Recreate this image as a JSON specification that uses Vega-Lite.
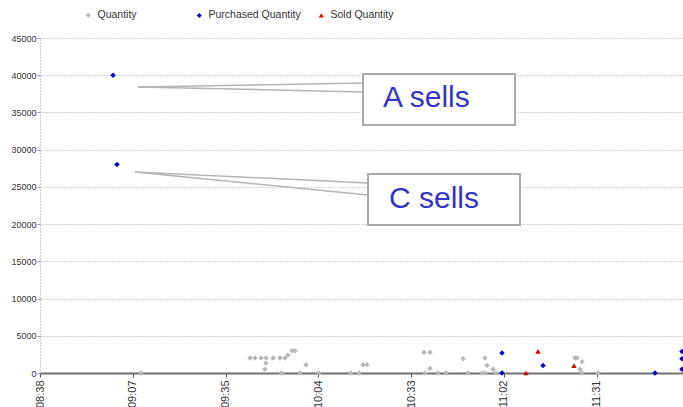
{
  "$schema": "https://vega.github.io/schema/vega-lite/v6.json",
  "width": 643,
  "height": 335,
  "autosize": {"type": "none"},
  "padding": {"left": 40, "top": 38, "right": 0, "bottom": 34},
  "background": "white",
  "config": {
    "view": {"stroke": null},
    "font": "Liberation Sans",
    "legend": {
      "orient": "none",
      "title": null,
      "direction": "horizontal",
      "labelFont": "Liberation Sans",
      "labelFontSize": 10.5,
      "labelColor": "#333333",
      "labelOffset": 4,
      "symbolSize": 25,
      "gridAlign": "each"
    },
    "axisX": {
      "title": null,
      "format": "%H:%M",
      "labelAngle": 270,
      "labelAlign": "right",
      "labelBaseline": "middle",
      "labelFont": "Liberation Sans",
      "labelFontSize": 11,
      "labelColor": "#333333",
      "labelPadding": 3,
      "labelOverlap": false,
      "labelFlush": false,
      "domainColor": "#707070",
      "domainWidth": 2,
      "tickColor": "#555555",
      "tickSize": 4,
      "grid": false
    },
    "axisY": {
      "title": null,
      "format": "d",
      "labelOverlap": false,
      "labelFlush": false,
      "labelFont": "Liberation Sans",
      "labelFontSize": 9,
      "labelColor": "#333333",
      "labelPadding": 1,
      "tickSize": 3,
      "tickColor": "#999999",
      "domainColor": "#999999",
      "domainDash": [1, 2],
      "grid": true,
      "gridColor": "#aaaaaa",
      "gridDash": [1, 2]
    }
  },
  "datasets": {
    "points": [
      {"time": "2013-01-01T09:00:52", "qty": 40000, "series": "Purchased Quantity"},
      {"time": "2013-01-01T09:02:06", "qty": 28000, "series": "Purchased Quantity"},
      {"time": "2013-01-01T11:01:35", "qty": 2700, "series": "Purchased Quantity"},
      {"time": "2013-01-01T11:01:35", "qty": 0, "series": "Purchased Quantity"},
      {"time": "2013-01-01T11:14:19", "qty": 1000, "series": "Purchased Quantity"},
      {"time": "2013-01-01T11:49:05", "qty": 0, "series": "Purchased Quantity"},
      {"time": "2013-01-01T11:57:27", "qty": 2900, "series": "Purchased Quantity"},
      {"time": "2013-01-01T11:57:27", "qty": 1900, "series": "Purchased Quantity"},
      {"time": "2013-01-01T11:57:27", "qty": 500, "series": "Purchased Quantity"},
      {"time": "2013-01-01T11:09:02", "qty": 0, "series": "Sold Quantity"},
      {"time": "2013-01-01T11:12:46", "qty": 2900, "series": "Sold Quantity"},
      {"time": "2013-01-01T11:23:56", "qty": 1000, "series": "Sold Quantity"},
      {"time": "2013-01-01T09:09:33", "qty": 0, "series": "Quantity"},
      {"time": "2013-01-01T09:43:23", "qty": 2000, "series": "Quantity"},
      {"time": "2013-01-01T09:44:56", "qty": 2000, "series": "Quantity"},
      {"time": "2013-01-01T09:46:47", "qty": 2000, "series": "Quantity"},
      {"time": "2013-01-01T09:48:20", "qty": 2000, "series": "Quantity"},
      {"time": "2013-01-01T09:48:20", "qty": 1300, "series": "Quantity"},
      {"time": "2013-01-01T09:48:00", "qty": 500, "series": "Quantity"},
      {"time": "2013-01-01T09:50:31", "qty": 2000, "series": "Quantity"},
      {"time": "2013-01-01T09:52:41", "qty": 2000, "series": "Quantity"},
      {"time": "2013-01-01T09:53:10", "qty": 0, "series": "Quantity"},
      {"time": "2013-01-01T09:54:14", "qty": 2000, "series": "Quantity"},
      {"time": "2013-01-01T09:55:10", "qty": 2400, "series": "Quantity"},
      {"time": "2013-01-01T09:56:25", "qty": 3000, "series": "Quantity"},
      {"time": "2013-01-01T09:57:20", "qty": 3000, "series": "Quantity"},
      {"time": "2013-01-01T09:58:54", "qty": 0, "series": "Quantity"},
      {"time": "2013-01-01T10:00:46", "qty": 1100, "series": "Quantity"},
      {"time": "2013-01-01T10:04:47", "qty": 0, "series": "Quantity"},
      {"time": "2013-01-01T10:14:43", "qty": 0, "series": "Quantity"},
      {"time": "2013-01-01T10:17:13", "qty": 0, "series": "Quantity"},
      {"time": "2013-01-01T10:18:27", "qty": 1100, "series": "Quantity"},
      {"time": "2013-01-01T10:19:41", "qty": 1100, "series": "Quantity"},
      {"time": "2013-01-01T10:37:23", "qty": 2800, "series": "Quantity"},
      {"time": "2013-01-01T10:39:14", "qty": 2800, "series": "Quantity"},
      {"time": "2013-01-01T10:37:41", "qty": 0, "series": "Quantity"},
      {"time": "2013-01-01T10:39:14", "qty": 600, "series": "Quantity"},
      {"time": "2013-01-01T10:41:44", "qty": 0, "series": "Quantity"},
      {"time": "2013-01-01T10:44:13", "qty": 0, "series": "Quantity"},
      {"time": "2013-01-01T10:49:29", "qty": 1900, "series": "Quantity"},
      {"time": "2013-01-01T10:51:02", "qty": 0, "series": "Quantity"},
      {"time": "2013-01-01T10:55:23", "qty": 0, "series": "Quantity"},
      {"time": "2013-01-01T10:56:19", "qty": 0, "series": "Quantity"},
      {"time": "2013-01-01T10:56:19", "qty": 2000, "series": "Quantity"},
      {"time": "2013-01-01T10:56:56", "qty": 1000, "series": "Quantity"},
      {"time": "2013-01-01T10:58:48", "qty": 500, "series": "Quantity"},
      {"time": "2013-01-01T10:59:44", "qty": 0, "series": "Quantity"},
      {"time": "2013-01-01T11:24:15", "qty": 2000, "series": "Quantity"},
      {"time": "2013-01-01T11:24:52", "qty": 2000, "series": "Quantity"},
      {"time": "2013-01-01T11:26:25", "qty": 1500, "series": "Quantity"},
      {"time": "2013-01-01T11:25:48", "qty": 500, "series": "Quantity"},
      {"time": "2013-01-01T11:26:25", "qty": 0, "series": "Quantity"},
      {"time": "2013-01-01T11:31:23", "qty": 0, "series": "Quantity"}
    ],
    "callouts": [
      {"t1": "2013-01-01T09:08:36", "v1": 38420, "t2": "2013-01-01T10:18:27", "v2": 38957},
      {"t1": "2013-01-01T09:08:36", "v1": 38420, "t2": "2013-01-01T10:18:27", "v2": 37748},
      {"t1": "2013-01-01T09:07:41", "v1": 27002, "t2": "2013-01-01T10:20:00", "v2": 25524},
      {"t1": "2013-01-01T09:07:41", "v1": 27002, "t2": "2013-01-01T10:20:00", "v2": 23912}
    ],
    "boxes": [
      {"t1": "2013-01-01T10:18:27", "t2": "2013-01-01T11:05:38", "v1": 33315, "v2": 40166},
      {"t1": "2013-01-01T10:20:00", "t2": "2013-01-01T11:07:10", "v1": 19882, "v2": 26733}
    ],
    "labels": [
      {"t": "2013-01-01T10:24:40", "v": 35733, "label": "A sells"},
      {"t": "2013-01-01T10:26:30", "v": 22165, "label": "C sells"}
    ]
  },
  "encoding": {
    "x": {
      "type": "temporal",
      "scale": {
        "domain": [
          {"year": 2013, "month": 1, "date": 1, "hours": 8, "minutes": 38, "seconds": 12},
          {"year": 2013, "month": 1, "date": 1, "hours": 11, "minutes": 57, "seconds": 46}
        ],
        "nice": false
      },
      "axis": {
        "values": [
          {"year": 2013, "month": 1, "date": 1, "hours": 8, "minutes": 38, "seconds": 12},
          {"year": 2013, "month": 1, "date": 1, "hours": 9, "minutes": 7, "seconds": 0},
          {"year": 2013, "month": 1, "date": 1, "hours": 9, "minutes": 35, "seconds": 48},
          {"year": 2013, "month": 1, "date": 1, "hours": 10, "minutes": 4, "seconds": 36},
          {"year": 2013, "month": 1, "date": 1, "hours": 10, "minutes": 33, "seconds": 24},
          {"year": 2013, "month": 1, "date": 1, "hours": 11, "minutes": 2, "seconds": 12},
          {"year": 2013, "month": 1, "date": 1, "hours": 11, "minutes": 31, "seconds": 0}
        ]
      }
    },
    "y": {
      "type": "quantitative",
      "scale": {"domain": [0, 45000], "nice": false},
      "axis": {
        "values": [0, 5000, 10000, 15000, 20000, 25000, 30000, 35000, 40000, 45000]
      }
    }
  },
  "layer": [
    {
      "data": {"name": "points"},
      "transform": [{"filter": "datum.series == 'Quantity'"}],
      "mark": {"type": "point", "filled": true, "size": 30, "opacity": 1},
      "encoding": {
        "x": {"field": "time"},
        "y": {"field": "qty"},
        "color": {
          "field": "series",
          "type": "nominal",
          "scale": {"domain": ["Quantity"], "range": ["#b8b8b8"]},
          "legend": {"legendX": 43, "legendY": -28}
        },
        "shape": {
          "field": "series",
          "type": "nominal",
          "scale": {"domain": ["Quantity"], "range": ["diamond"]},
          "legend": {"legendX": 43, "legendY": -28}
        }
      }
    },
    {
      "data": {"name": "points"},
      "transform": [{"filter": "datum.series != 'Quantity'"}],
      "mark": {"type": "point", "filled": true, "size": 30, "opacity": 1},
      "encoding": {
        "x": {"field": "time"},
        "y": {"field": "qty"},
        "color": {
          "field": "series",
          "type": "nominal",
          "scale": {"domain": ["Purchased Quantity", "Sold Quantity"], "range": ["#0000cc", "#dd0000"]},
          "legend": {"legendX": 154, "legendY": -28, "columnPadding": 15}
        },
        "shape": {
          "field": "series",
          "type": "nominal",
          "scale": {"domain": ["Purchased Quantity", "Sold Quantity"], "range": ["diamond", "triangle-up"]},
          "legend": {"legendX": 154, "legendY": -28, "columnPadding": 15}
        }
      }
    },
    {
      "data": {"name": "callouts"},
      "mark": {"type": "rule", "color": "#b4b4b4", "strokeWidth": 1.5},
      "encoding": {
        "x": {"field": "t1"},
        "x2": {"field": "t2"},
        "y": {"field": "v1"},
        "y2": {"field": "v2"}
      }
    },
    {
      "data": {"name": "boxes"},
      "mark": {"type": "rect", "fill": "white", "stroke": "#aaaaaa", "strokeWidth": 2},
      "encoding": {
        "x": {"field": "t1"},
        "x2": {"field": "t2"},
        "y": {"field": "v1"},
        "y2": {"field": "v2"}
      }
    },
    {
      "data": {"name": "labels"},
      "mark": {"type": "text", "align": "left", "baseline": "alphabetic", "fontSize": 30, "font": "Liberation Sans", "color": "#3434c8"},
      "encoding": {
        "x": {"field": "t"},
        "y": {"field": "v"},
        "text": {"field": "label"}
      }
    }
  ],
  "resolve": {"scale": {"shape": "independent", "color": "independent"}}
}
